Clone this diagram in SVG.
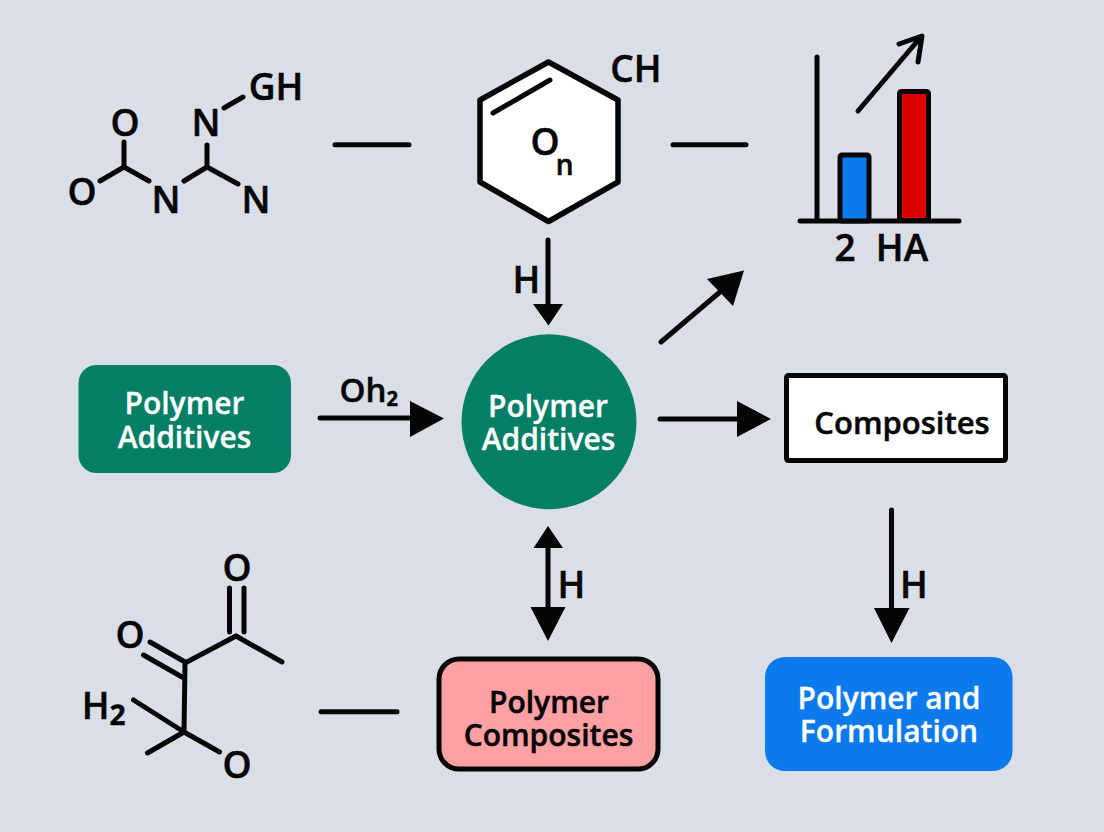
<svg xmlns="http://www.w3.org/2000/svg" width="1104" height="832" viewBox="0 0 1104 832">
<style>
.t{font-family:"Open Sans","Noto Sans","Liberation Sans",sans-serif;font-weight:600;fill:#050505;stroke:#050505;stroke-width:.5;text-anchor:middle}
.m{font-size:37px}
.b{font-size:30px}
.w{font-family:"Open Sans","Noto Sans","Liberation Sans",sans-serif;font-weight:600;fill:#fff;stroke:#fff;stroke-width:.3;text-anchor:middle;font-size:30px}
.l{fill:none;stroke:#050505;stroke-width:5;stroke-linecap:round;stroke-linejoin:round}
.c{fill:none;stroke:#050505;stroke-width:5;stroke-linecap:round}
.h{fill:#050505}
</style>
<rect width="1104" height="832" fill="#dadee7"/>
<g id="molecule-top">
<path class="l" d="M124 142V167M100 181L124 167L149 181M184 181L207 167L238 184M207 167V145M224 108L243 97"/>
<text class="t m" x="125" y="136">O</text>
<text class="t m" x="82" y="205">O</text>
<text class="t m" x="166" y="213">N</text>
<text class="t m" x="256" y="213">N</text>
<text class="t m" x="206" y="136">N</text>
<text class="t m" x="276" y="100">GH</text>
</g>
<g id="ring">
<path d="M548.500 62L618 100V182L548.500 221.500L480 182V100Z" fill="#fff" stroke="#050505" stroke-width="5.500" stroke-linejoin="round"/>
<path class="l" d="M493 113L550 80"/>
<text class="t m" x="552" y="155">O<tspan font-size="28" dx="-4" dy="20">n</tspan></text>
<text class="t m" x="636" y="82">CH</text>
</g>
<g id="chart">
<path class="l" d="M817 57V221M800 221H959M858 111L920 38M899 44L922 36L918 62"/>
<rect x="840" y="155" width="29" height="66" rx="2" fill="#0a7aee" stroke="#050505" stroke-width="5"/>
<rect x="899.500" y="91.500" width="29" height="129" rx="2" fill="#dc0000" stroke="#050505" stroke-width="5"/>
<text class="t m" x="845" y="261">2</text>
<text class="t m" x="902" y="261">HA</text>
</g>
<g id="additives-box">
<rect x="78.500" y="365" width="212.500" height="108" rx="18" fill="#047f66"/>
<text class="w"><tspan x="184.500" y="414">Polymer</tspan><tspan x="184.500" y="447.500">Additives</tspan></text>
</g>
<g id="additives-circle">
<circle cx="549" cy="421.700" r="87.500" fill="#047f66"/>
<text class="w"><tspan x="548" y="416.500">Polymer</tspan><tspan x="548.500" y="450">Additives</tspan></text>
</g>
<g id="composites">
<rect x="786.500" y="375.500" width="219" height="85" rx="2" fill="#fff" stroke="#050505" stroke-width="5"/>
<text class="t" x="902" y="434" font-size="31">Composites</text>
</g>
<g id="molecule-bottom">
<path class="l" d="M229.500 588V632M244 588V632M236 636L185 663L184 732M236 636L282 662M150 642L185 662M143.500 655L182 677M133.500 700L184 732L219.500 752M147.500 753L184 732"/>
<text class="t m" x="237" y="581">O</text>
<text class="t m" x="130" y="648">O</text>
<text class="t m" x="237" y="778">O</text>
<text class="t m" x="104" y="719">H<tspan font-size="46">₂</tspan></text>
</g>
<g id="polymer-composites">
<rect x="439" y="659" width="219" height="110" rx="20" fill="#ffa0a3" stroke="#050505" stroke-width="5"/>
<text class="t b"><tspan x="549" y="712.500">Polymer</tspan><tspan x="548.500" y="746">Composites</tspan></text>
</g>
<g id="formulation">
<rect x="765" y="657" width="247.500" height="114" rx="20" fill="#0a7aee"/>
<text class="w"><tspan x="889" y="708.500">Polymer and</tspan><tspan x="889" y="742">Formulation</tspan></text>
</g>
<g id="connectors">
<path class="c" d="M335 144.700H409M673 144.700H746M321 711.700H397M548 240V306M661 342L720 292M320 418H412M660 419H738M548 545V610M891.500 510V610"/>
<path class="h" d="M533 304H563L548.500 325.500ZM707 279L744 270.500L733 306ZM410 401L444 418.500L410 437ZM737 401L771 419L737 437ZM533.500 548L548 526L563 548ZM530.500 607H565.500L548 641ZM874 608H909.500L891.500 643Z"/>
<text class="t m" x="526.500" y="293">H</text>
<text class="t" x="369" y="402" font-size="33">Oh₂</text>
<text class="t m" x="571.500" y="598">H</text>
<text class="t m" x="914" y="598">H</text>
</g>
</svg>
